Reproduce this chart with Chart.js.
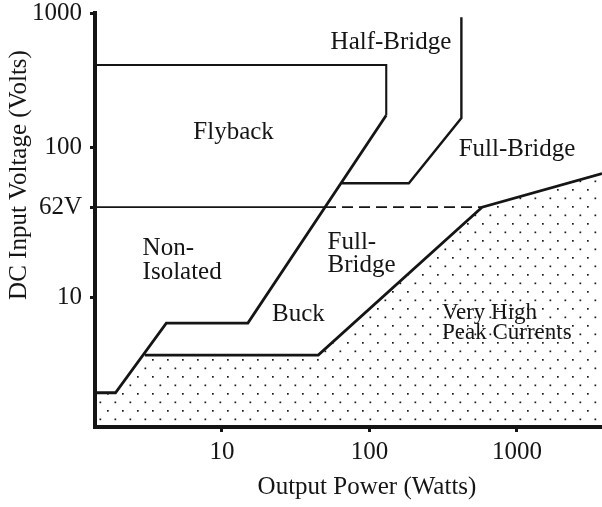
<!DOCTYPE html>
<html>
<head>
<meta charset="utf-8">
<script src="https://cdn.jsdelivr.net/npm/chart.js@4/dist/chart.umd.min.js"></script>
<style>
  html, body { margin: 0; padding: 0; background: #fff; }
  #wrap { width: 602px; height: 507px; }
</style>
</head>
<body>
<div id="wrap"><canvas id="chart"></canvas></div>
<script>
const INK = '#151515';
const SERIF = '"Liberation Serif", "Times New Roman", serif';

// axes (watts across, volts up, both log)
const wattsMin = 1.38, wattsMax = 3770;
const voltsMin = 1.36, voltsMax = 1000;
const wattTicks = [10, 100, 1000];
const wattTickLabels = ['10', '100', '1000'];
const voltTicks = [10, 62, 100, 1000];
const voltTickLabels = ['10', '62V', '100', '1000'];
// the original's voltage axis is hand drawn: where each tick sits, as a fraction of the axis height
const voltTickSpots = [0.314, 0.531, 0.676, 1];

// region boundaries
const nonIsolatedWatts = [1.38, 1.9, 4.2, 15, 130];
const nonIsolatedVolts = [2.3, 2.3, 6.7, 6.7, 173];
const flybackWatts = [130, 130, 1.38];
const flybackVolts = [173, 410, 410];
const halfBridgeWatts = [420, 420, 185, 65];
const halfBridgeVolts = [930, 165, 75, 75];
const peakWatts = [3.0, 45, 580, 3770];
const peakVolts = [4.1, 4.1, 62, 81];
const shadeWatts = [1.38, 1.9, 3.0, 45, 580, 3770];
const shadeVolts = [2.3, 2.3, 4.1, 4.1, 62, 81];
const limit62Watts = [1.38, 50, 580];
const limit62Volts = [62, 62, 62];

const regionLabels = [
    { lines: ['Flyback'], watts: 12, volts: 129, align: 'center' },
    { lines: ['Half-Bridge'], watts: 140, volts: 608, align: 'center' },
    { lines: ['Full-Bridge'], watts: 1000, volts: 98, align: 'center' },
    { lines: ['Non-', 'Isolated'], watts: 2.9, volts: 27, align: 'left', gap: 24 },
    { lines: ['Full-', 'Bridge'], watts: 52, volts: 30, align: 'left', gap: 23 },
    { lines: ['Buck'], watts: 33, volts: 7.6, align: 'center' },
    { lines: ['Very High', 'Peak Currents'], watts: 310, volts: 7.8, align: 'left', gap: 20, size: 23 },
];

const pts = (xs, ys) => xs.map((x, i) => ({ x, y: ys[i] }));

// piecewise log mapping through the tick spots
function voltFraction(scale, value) {
    const logs = [Math.log10(scale.min), ...voltTicks.map(Math.log10)];
    const spots = [0, ...voltTickSpots];
    const v = Math.log10(value);
    let i = 1;
    while (i < logs.length - 1 && v > logs[i]) i++;
    const t = (v - logs[i - 1]) / (logs[i] - logs[i - 1]);
    return spots[i - 1] + t * (spots[i] - spots[i - 1]);
}

class StretchedLogScale extends Chart.LogarithmicScale {
    static id = 'stretchedLog';
    static defaults = Chart.LogarithmicScale.defaults;
    getPixelForValue(value) {
        if (value === undefined || value === 0) value = this.min;
        if (value === null || isNaN(value)) return NaN;
        return this.getPixelForDecimal(voltFraction(this, value));
    }
}
Chart.register(StretchedLogScale);

function dotPattern() {
    const c = document.createElement('canvas');
    c.width = 15;
    c.height = 17;
    const g = c.getContext('2d');
    g.fillStyle = '#1a1a1a';
    g.fillRect(2, 2, 1.7, 1.7);
    g.fillRect(9.5, 10.5, 1.7, 1.7);
    return g.createPattern(c, 'repeat');
}

function line(data, width) {
    return {
        data,
        borderColor: INK,
        borderWidth: width,
        borderJoinStyle: 'miter',
        pointRadius: 0,
        tension: 0,
        fill: false,
    };
}

const annotations = {
    id: 'annotations',
    afterDraw(chart) {
        const { ctx, scales: { x, y } } = chart;
        ctx.save();
        ctx.fillStyle = INK;
        ctx.textBaseline = 'middle';
        regionLabels.forEach(l => {
            ctx.font = `${l.size || 25}px ${SERIF}`;
            ctx.textAlign = l.align;
            const px = x.getPixelForValue(l.watts);
            const py = y.getPixelForValue(l.volts);
            l.lines.forEach((t, i) => ctx.fillText(t, px, py + i * (l.gap || 0)));
        });
        ctx.font = `25px ${SERIF}`;
        ctx.textAlign = 'center';
        ctx.fillText('Output Power (Watts)', 367, 487);
        ctx.translate(19, 175);
        ctx.rotate(-Math.PI / 2);
        ctx.fillText('DC Input Voltage (Volts)', 0, 0);
        ctx.restore();
    }
};

const tickFont = { family: SERIF, size: 25, lineHeight: 1 };

new Chart(document.getElementById('chart'), {
    type: 'line',
    data: {
        datasets: [
            { ...line(pts(shadeWatts, shadeVolts), 0), fill: 'start', backgroundColor: dotPattern() },
            {
                ...line(pts(limit62Watts, limit62Volts), 1.6),
                segment: { borderDash: c => c.p0DataIndex === 1 ? [11, 6] : undefined },
            },
            line(pts(nonIsolatedWatts, nonIsolatedVolts), 2.8),
            line(pts(flybackWatts, flybackVolts), 2.1),
            line(pts(halfBridgeWatts, halfBridgeVolts), 2.4),
            line(pts(peakWatts, peakVolts), 2.8),
        ]
    },
    options: {
        responsive: true,
        maintainAspectRatio: false,
        devicePixelRatio: 1,
        animation: false,
        layout: { padding: { top: 13, right: 0, left: 0, bottom: 0 } },
        plugins: { legend: { display: false }, tooltip: { enabled: false } },
        scales: {
            x: {
                type: 'logarithmic',
                min: wattsMin,
                max: wattsMax,
                afterBuildTicks: s => { s.ticks = wattTicks.map(v => ({ value: v })); },
                afterFit: s => { s.height = 80; s.paddingLeft = 0; s.paddingRight = 0; },
                ticks: {
                    color: INK,
                    font: tickFont,
                    padding: 8,
                    maxRotation: 0,
                    autoSkip: false,
                    callback: v => wattTickLabels[wattTicks.indexOf(v)],
                },
                grid: { drawOnChartArea: false, tickLength: 5, tickWidth: 3, tickColor: INK },
                border: { display: true, width: 4, color: INK },
            },
            y: {
                type: 'stretchedLog',
                min: voltsMin,
                max: voltsMax,
                afterBuildTicks: s => { s.ticks = voltTicks.map(v => ({ value: v })); },
                afterFit: s => { s.width = 95; s.paddingTop = 0; s.paddingBottom = 0; },
                ticks: {
                    color: INK,
                    font: tickFont,
                    padding: 8,
                    autoSkip: false,
                    callback: v => voltTickLabels[voltTicks.indexOf(v)],
                },
                grid: { drawOnChartArea: false, tickLength: 5, tickWidth: 3, tickColor: INK },
                border: { display: true, width: 4, color: INK },
            }
        }
    },
    plugins: [annotations]
});
</script>
</body>
</html>
